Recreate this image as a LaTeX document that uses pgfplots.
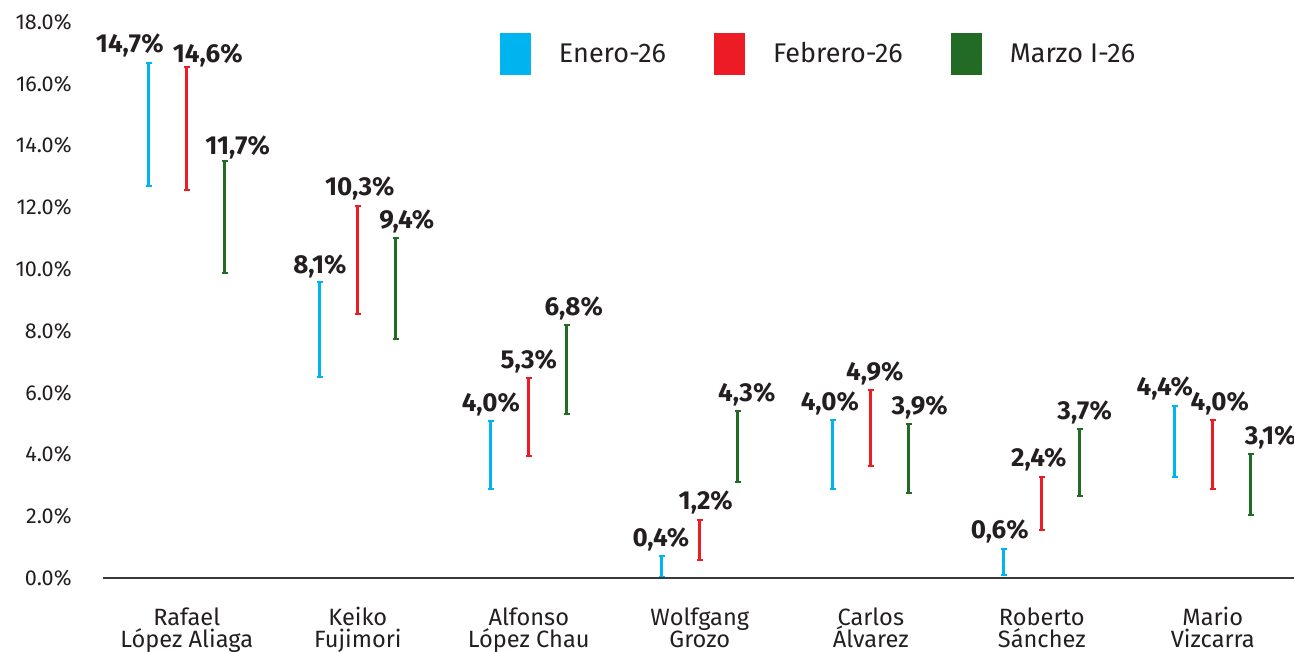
\documentclass[border=0pt]{standalone}
\usepackage{pgfplots}
\pgfplotsset{compat=1.18}
\usepackage{pgfplotstable}
\usepackage{fontspec}
\setmainfont{Fira Sans}
\definecolor{blueC}{HTML}{00B4EF}
\definecolor{redC}{HTML}{ED1C24}
\definecolor{greenC}{HTML}{216B25}
\definecolor{txt}{HTML}{231F20}
\definecolor{axc}{HTML}{3A3A3A}

% x = group + offset, y = point value, lo/hi = interval, dx/dy = label shift (pt)
\pgfplotstableread{
x y lo hi dx dy
-0.222 14.7 12.69 16.67 -9.5 5.5
0.778 8.1 6.50 9.58 0 4.5
1.778 4.0 2.88 5.08 0 5
2.778 0.4 0.03 0.71 -0.5 5
3.778 4.0 2.88 5.11 -1.5 5
4.778 0.6 0.10 0.94 -2 5
5.778 4.4 3.27 5.57 -5 5
}\enero
\pgfplotstableread{
x y lo hi dx dy
0 14.6 12.56 16.54 10.5 2.5
1 10.3 8.54 12.04 1 5.5
2 5.3 3.95 6.47 0 5
3 1.2 0.58 1.88 3 5
4 4.9 3.62 6.08 2 5
5 2.4 1.55 3.27 -1.5 5
6 4.0 2.88 5.11 3.5 5
}\febrero
\pgfplotstableread{
x y lo hi dx dy
0.222 11.7 9.87 13.50 6.5 3
1.222 9.4 7.73 11.00 5.5 5
2.222 6.8 5.31 8.19 3.5 5
3.222 4.3 3.11 5.40 4.5 5
4.222 3.9 2.75 4.98 5.5 5
5.222 3.7 2.65 4.82 2.5 5
6.222 3.1 2.04 4.01 10 5
}\marzo

\pgfplotsset{
  errplot/.style={draw=none, mark=none,
    legend image code/.code={\fill[#1] (0pt,-10.5pt) rectangle (15.5pt,10.5pt); \path (27.5pt,0pt);},
    error bars/.cd, y dir=both, y explicit, error mark=|,
    error bar style={draw=#1, line width=1.5pt},
    error mark options={draw=#1, mark size=1.4pt, line width=1.1pt}},
  labplot/.style={draw=none, mark=none, forget plot,
    point meta=\thisrow{y},
    visualization depends on={\thisrow{dx} \as \dx},
    visualization depends on={\thisrow{dy} \as \dy},
    nodes near coords={\pgfmathprintnumber[fixed, fixed zerofill, precision=1, use comma]{\pgfplotspointmeta}\%},
    nodes near coords style={anchor=base, inner sep=0pt, xshift=\dx*1pt, yshift=\dy*1pt,
      font=\fontsize{13}{15}\selectfont\bfseries, text=txt}},
}

\begin{document}
\begin{tikzpicture}
\begin{axis}[
  scale only axis,
  width=595.5pt, height=278pt,
  xmin=-0.49, xmax=6.475, ymin=0, ymax=18,
  clip=false,
  axis line style={draw=none},
  major tick length=0pt,
  /pgf/number format/assume math mode=true,
  ytick={0,2,...,18},
  yticklabel={\pgfmathprintnumber[fixed, fixed zerofill, precision=1]{\tick}\%},
  yticklabel style={anchor=east, inner sep=0pt, xshift=-15.5pt, font=\fontsize{10.8}{13}\selectfont, text=txt},
  xtick={0,...,6},
  xticklabels={{Rafael\\López Aliaga},{Keiko\\Fujimori},{Alfonso\\López Chau},{Wolfgang\\Grozo},{Carlos\\Álvarez},{Roberto\\Sánchez},{Mario\\Vizcarra}},
  xticklabel style={align=center, anchor=north, inner sep=0pt, yshift=-14.5pt, font=\fontsize{11.8}{11}\selectfont, text=txt},
  legend columns=3,
  legend style={at={(rel axis cs:0.333,0.942)}, anchor=west, draw=none, fill=none, inner sep=0pt,
    font=\fontsize{13.5}{15}\selectfont, text=txt,
    /tikz/every even column/.append style={column sep=22pt}},
]
\addplot[errplot=blueC]
  table[x=x, y=y, y error plus expr=\thisrow{hi}-\thisrow{y}, y error minus expr=\thisrow{y}-\thisrow{lo}] {\enero};
\addlegendentry{Enero-26}
\addplot[errplot=redC]
  table[x=x, y=y, y error plus expr=\thisrow{hi}-\thisrow{y}, y error minus expr=\thisrow{y}-\thisrow{lo}] {\febrero};
\addlegendentry{Febrero-26}
\addplot[errplot=greenC]
  table[x=x, y=y, y error plus expr=\thisrow{hi}-\thisrow{y}, y error minus expr=\thisrow{y}-\thisrow{lo}] {\marzo};
\addlegendentry{Marzo I-26}
\addplot[labplot] table[x=x, y=hi] {\enero};
\addplot[labplot] table[x=x, y=hi] {\febrero};
\addplot[labplot] table[x=x, y=hi] {\marzo};
\draw[axc, line width=1pt] (rel axis cs:0,0) -- (rel axis cs:1,0);
\coordinate (SW) at (rel axis cs:0,0);
\coordinate (NE) at (rel axis cs:1,1);
\end{axis}
\pgfresetboundingbox
\path[use as bounding box] ([shift={(-51.5pt,-37pt)}]SW) rectangle ([shift={(0pt,11pt)}]NE);
\end{tikzpicture}
\end{document}
